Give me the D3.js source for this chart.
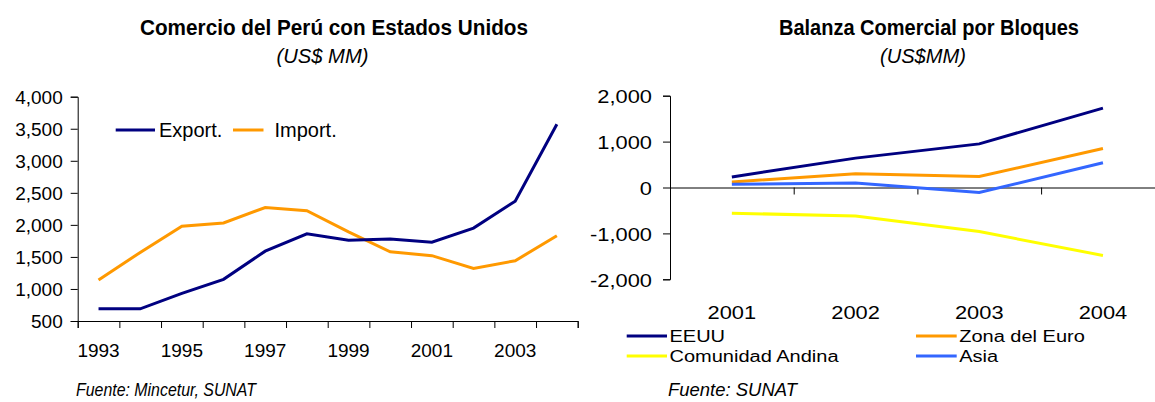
<!DOCTYPE html>
<html>
<head>
<meta charset="utf-8">
<script src="https://cdn.jsdelivr.net/npm/d3@7"></script>
<style>
  body { margin: 0; background: #fff; }
  svg { display: block; font-family: "Liberation Sans", Arial, sans-serif; }
</style>
</head>
<body>
<svg id="chart" width="1155" height="402"></svg>
<script>
// ---- data: left chart (US$ MM)
var years = ["1993","1994","1995","1996","1997","1998","1999","2000","2001","2002","2003","2004"];
var yearLabels = ["1993","1995","1997","1999","2001","2003"];
var exportValues = [690, 690, 930, 1150, 1590, 1860, 1760, 1780, 1730, 1950, 2370, 3570];
var importValues = [1140, 1570, 1980, 2030, 2270, 2220, 1890, 1580, 1520, 1320, 1440, 1830];
var leftTicks = [500, 1000, 1500, 2000, 2500, 3000, 3500, 4000];

// ---- data: right chart (US$MM)
var blockYears = ["2001","2002","2003","2004"];
var eeuu = [230, 640, 950, 1730];
var zonaEuro = [120, 300, 240, 850];
var comunidadAndina = [-560, -620, -960, -1480];
var asia = [70, 100, -110, 540];
var rightTicks = [-2000, -1000, 0, 1000, 2000];

var svg = d3.select("#chart");
var fmt = function(d) { return d3.format(",")(d).replace("\u2212", "-"); };

// ---------------- left chart ----------------
var xL = d3.scaleBand().domain(years).range([77.7, 577.7]).padding(0),
    xLb = d3.scaleLinear().domain([0, years.length]).range([77.7, 577.7]),
    yL = d3.scaleLinear().domain([500, 4000]).range([321, 96.7]);

var left = svg.append("g");

left.append("g")
    .attr("transform", "translate(77.7,0)")
    .call(d3.axisLeft(yL).tickValues(leftTicks).tickFormat(fmt).tickSize(7).tickPadding(8))
    .call(function(g) {
      g.selectAll("path, line").attr("stroke", "#000");
      g.selectAll("text").attr("font-size", 19).attr("fill", "#000").attr("font-family", null).attr("dy", "0.36em");
    });

// boundary ticks
left.append("g")
    .attr("transform", "translate(0,321)")
    .call(d3.axisBottom(xLb).ticks(years.length).tickFormat("").tickSize(7))
    .call(function(g) { g.selectAll("path, line").attr("stroke", "#000"); });

// year labels
left.append("g")
    .attr("transform", "translate(0,321)")
    .call(d3.axisBottom(xL).tickValues(yearLabels).tickSize(0))
    .call(function(g) {
      g.select(".domain").remove();
      g.selectAll("text").attr("font-size", 19).attr("fill", "#000").attr("font-family", null)
        .attr("y", 36).attr("dy", 0);
    });

var lineL = d3.line()
    .x(function(d, i) { return xL(years[i]) + xL.bandwidth() / 2; })
    .y(function(d) { return yL(d); });

left.append("path").datum(importValues)
    .attr("d", lineL).attr("fill", "none").attr("stroke", "#FF9900").attr("stroke-width", 3);
left.append("path").datum(exportValues)
    .attr("d", lineL).attr("fill", "none").attr("stroke", "#000080").attr("stroke-width", 3);

// legend
var legL = [
  {name: "Export.", color: "#000080", x1: 115.7, x2: 155, tx: 159},
  {name: "Import.", color: "#FF9900", x1: 233, x2: 263.5, tx: 274.5}
];
legL.forEach(function(d) {
  left.append("line").attr("x1", d.x1).attr("x2", d.x2).attr("y1", 130).attr("y2", 130)
      .attr("stroke", d.color).attr("stroke-width", 3);
  left.append("text").attr("x", d.tx).attr("y", 137).attr("font-size", 20).text(d.name);
});

// titles
left.append("text").attr("x", 334).attr("y", 35).attr("text-anchor", "middle")
    .attr("font-size", 22).attr("font-weight", "bold")
    .attr("textLength", 388).attr("lengthAdjust", "spacingAndGlyphs")
    .text("Comercio del Perú con Estados Unidos");
left.append("text").attr("x", 322.5).attr("y", 63).attr("text-anchor", "middle")
    .attr("font-size", 21).attr("font-style", "italic")
    .attr("textLength", 92).attr("lengthAdjust", "spacingAndGlyphs")
    .text("(US$ MM)");
left.append("text").attr("x", 76).attr("y", 396)
    .attr("font-size", 19).attr("font-style", "italic")
    .attr("textLength", 180).attr("lengthAdjust", "spacingAndGlyphs")
    .text("Fuente: Mincetur, SUNAT");

// ---------------- right chart ----------------
var xR = d3.scaleBand().domain(blockYears).range([670, 1164.8]).padding(0),
    xRb = d3.scaleLinear().domain([0, blockYears.length]).range([670, 1164.8]),
    yR = d3.scaleLinear().domain([-2000, 2000]).range([279.3, 95.7]);

var right = svg.append("g");

right.append("g")
    .attr("transform", "translate(670,0)")
    .call(d3.axisLeft(yR).tickValues(rightTicks).tickFormat(fmt).tickSize(7).tickPadding(11))
    .call(function(g) {
      g.selectAll("path, line").attr("stroke", "#000");
      g.selectAll("text").attr("font-size", 19).attr("fill", "#000").attr("font-family", null)
        .attr("dy", "0.36em")
        .attr("transform", function() { return "translate(" + d3.select(this).attr("x") + ",0) scale(1.15,1)"; })
        .attr("x", 0);
    });

right.append("g")
    .attr("transform", "translate(0," + yR(0) + ")")
    .call(d3.axisBottom(xRb).ticks(blockYears.length).tickFormat("").tickSize(7))
    .call(function(g) { g.selectAll("path, line").attr("stroke", "#000"); });

right.append("g")
    .call(d3.axisBottom(xR).tickSize(0))
    .call(function(g) {
      g.select(".domain").remove();
      g.selectAll("text").attr("font-size", 19).attr("fill", "#000").attr("font-family", null)
        .attr("y", 0).attr("dy", 0)
        .attr("transform", "translate(0,318.5) scale(1.15,1)");
    });

var series = [
  {name: "EEUU", values: eeuu, color: "#000080"},
  {name: "Zona del Euro", values: zonaEuro, color: "#FF9900"},
  {name: "Comunidad Andina", values: comunidadAndina, color: "#FFFF00"},
  {name: "Asia", values: asia, color: "#3366FF"}
];

var lineR = d3.line()
    .x(function(d, i) { return xR(blockYears[i]) + xR.bandwidth() / 2; })
    .y(function(d) { return yR(d); });

right.selectAll("path.serie").data(series).enter().append("path")
    .attr("class", "serie")
    .attr("d", function(d) { return lineR(d.values); })
    .attr("fill", "none").attr("stroke", function(d) { return d.color; }).attr("stroke-width", 3);

// legend (two columns)
var legPos = [
  {x1: 626.7, x2: 667, y: 336},
  {x1: 916, x2: 956.7, y: 336},
  {x1: 626.7, x2: 667, y: 356},
  {x1: 916, x2: 956.7, y: 356}
];
series.forEach(function(d, i) {
  var p = legPos[i];
  right.append("line").attr("x1", p.x1).attr("x2", p.x2).attr("y1", p.y).attr("y2", p.y)
      .attr("stroke", d.color).attr("stroke-width", 3);
  right.append("text").attr("font-size", 16)
      .attr("transform", "translate(" + (p.x2 + 2.5) + "," + (p.y + 6) + ") scale(1.25,1)")
      .text(d.name);
});

right.append("text").attr("x", 929).attr("y", 35).attr("text-anchor", "middle")
    .attr("font-size", 22).attr("font-weight", "bold")
    .attr("textLength", 300).attr("lengthAdjust", "spacingAndGlyphs")
    .text("Balanza Comercial por Bloques");
right.append("text").attr("x", 923).attr("y", 63).attr("text-anchor", "middle")
    .attr("font-size", 21).attr("font-style", "italic")
    .attr("textLength", 86).attr("lengthAdjust", "spacingAndGlyphs")
    .text("(US$MM)");
right.append("text").attr("x", 668).attr("y", 396)
    .attr("font-size", 19).attr("font-style", "italic")
    .attr("textLength", 129).attr("lengthAdjust", "spacingAndGlyphs")
    .text("Fuente: SUNAT");
</script>
</body>
</html>
